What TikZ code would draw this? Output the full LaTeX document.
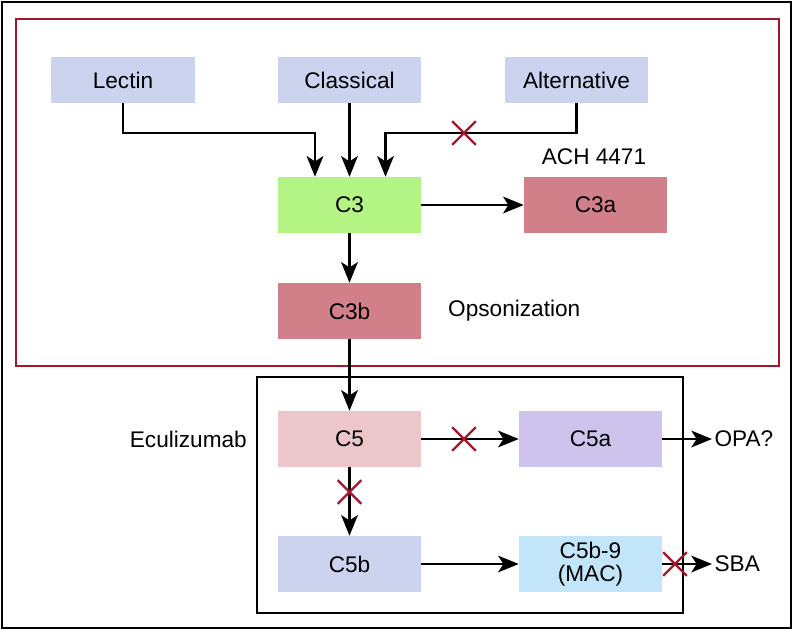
\documentclass[tikz,border=0pt]{standalone}
\usepackage{fontspec}
\setmainfont{Liberation Sans}
\usetikzlibrary{arrows.meta,shapes.misc}
\definecolor{pathblue}{HTML}{CBD3EE}
\definecolor{cthree}{HTML}{B4F484}
\definecolor{rose}{HTML}{D17F88}
\definecolor{pink}{HTML}{EBC6CB}
\definecolor{lilac}{HTML}{CDC3EC}
\definecolor{skyblue}{HTML}{C2E5F9}
\definecolor{xred}{HTML}{A4162D}
\begin{document}
\begin{tikzpicture}[x=0.03cm,y=-0.03cm,
	box/.style={minimum width=4.29cm,minimum height=1.68cm,inner sep=0pt,align=center},
	pathbox/.style={box,fill=pathblue,minimum height=1.38cm},
	arr/.style={line width=0.075cm,-{Stealth[length=0.62cm,width=0.5cm,inset=0.16cm]}},
	xmark/.style={cross out,draw=xred,line width=0.07cm,minimum size=0.64cm,inner sep=0pt},
	every node/.style={font=\fontsize{19.3}{22}\selectfont}]
		\useasboundingbox (0,0) rectangle (795,630);
		\draw[line width=0.07cm] (2,2) rectangle (791,628);
		\draw[xred,line width=0.05cm] (16,19) rectangle (779,366);
		\draw[line width=0.06cm] (257,377) rectangle (683,613);
		% pathways
		\node[pathbox] (lectin) at (123,80) {Lectin};
		\node[pathbox] (classical) at (349.5,80) {Classical};
		\node[pathbox] (alternative) at (576.5,80) {Alternative};
		% C3 and split products
		\node[box,fill=cthree] (c3) at (349.5,205) {C3};
		\node[box,fill=rose] (c3a) at (595.5,205) {C3a};
		\node[box,fill=rose] (c3b) at (349.5,311) {C3b};
		\node (ach) at (594,157) {ACH 4471};
		\node[anchor=west,inner sep=0pt] (opson) at (448,311) {Opsonization};
		% C5 and split products
		\node[box,fill=pink] (c5) at (349.5,439) {C5};
		\node[box,fill=lilac] (c5a) at (590.5,439) {C5a};
		\node[box,fill=pathblue] (c5b) at (349.5,564) {C5b};
		\node[box,fill=skyblue] (mac) at (590.5,564) {C5b-9\\[-2pt](MAC)};
		\node[anchor=east,inner sep=0pt] (ecu) at (247,439) {Eculizumab};
		\node[anchor=west,inner sep=2pt] (opa) at (712,439) {OPA?};
		\node[anchor=west,inner sep=2pt] (sba) at (712,564) {SBA};
		% connectors
		\draw[arr] (lectin.south) -- ++(0,30) -| ([xshift=-1.035cm]c3.north);
		\draw[arr] (classical) -- (c3);
		\draw[arr] (alternative.south) -- ++(0,30) -| ([xshift=1.08cm]c3.north);
		\draw[arr] (c3) -- (c3a);
		\draw[arr] (c3) -- (c3b);
		\draw[arr] (c3b) -- (c5);
		\draw[arr] (c5) -- (c5a);
		\draw[arr] (c5) -- (c5b);
		\draw[arr] (c5b) -- (mac);
		\draw[arr] (c5a.east) -- (opa.west);
		\draw[arr] (mac.east) -- (sba.west);
		% blocks
		\node[xmark] (xalt) at (464,133) {};
		\node[xmark] (xc5a) at (464,439) {};
		\node[xmark] (xc5b) at (349.5,492) {};
		\node[xmark] (xsba) at (675,564) {};
	\end{tikzpicture}
\end{document}
